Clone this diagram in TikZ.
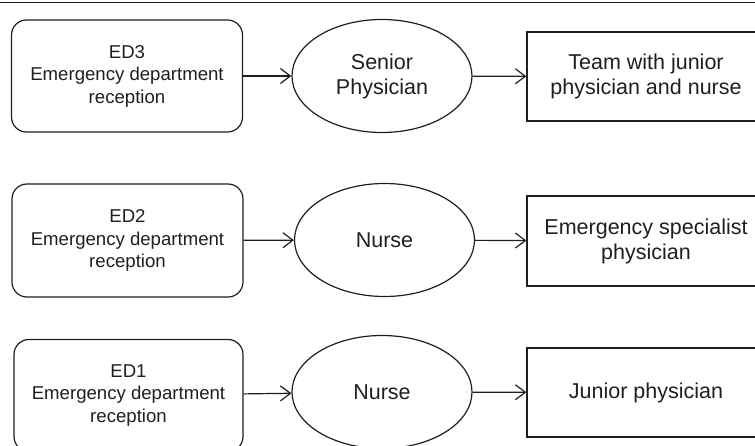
\documentclass[tikz,border=0pt]{standalone}
\usepackage{fontspec}
\setmainfont{Liberation Sans}
\usetikzlibrary{arrows.meta, shapes.geometric}
\colorlet{Ink}{black!88}

\begin{document}
\begin{tikzpicture}[x=1pt, y=-1pt,
  recnode/.style={rectangle, rounded corners=15pt, draw=Ink, text=Ink, line width=1.2pt, minimum width=231pt, minimum height=112pt, align=center, font=\fontsize{18.6}{22.5}\selectfont},
  staffnode/.style={ellipse, draw=Ink, text=Ink, line width=1.2pt, minimum width=180pt, minimum height=113pt, inner sep=0pt, align=center, font=\fontsize{21.5}{25}\selectfont},
  teamnode/.style={rectangle, draw=Ink, text=Ink, line width=1.2pt, minimum width=238pt, minimum height=89pt, align=center, font=\fontsize{21.5}{25}\selectfont},
  flow/.style={-{Straight Barb[length=10pt,width=15pt]}, draw=Ink, line width=1.2pt}
]
\useasboundingbox (0,0) rectangle (755,446);

% rule at the top
\draw[Ink, line width=1.5pt] (0,2.5) -- (755,2.5);

% ED3
\node [recnode] (rec3) at (127,76) {ED3\\Emergency department\\reception};
\node [staffnode] (staff3) at (382,76) {Senior\\Physician};
\node [teamnode] (team3) at (646,76.5) {Team with junior\\physician and nurse};

% ED2
\node [recnode, minimum height=113pt] (rec2) at (127.5,240.5) {ED2\\Emergency department\\reception};
\node [staffnode] (staff2) at (384.5,240) {Nurse};
\node [teamnode, minimum height=90pt] (team2) at (646,241) {Emergency specialist\\physician};

% ED1
\node [recnode, minimum width=229pt] (rec1) at (128.5,395.5) {ED1\\Emergency department\\reception};
\node [staffnode] (staff1) at (382,392) {Nurse};
\node [teamnode] (team1) at (646,392.5) {Junior physician};

\foreach \r in {1,2,3}
{
  \draw[flow] (rec\r) -- (staff\r);
  \draw[flow] (staff\r) -- (team\r);
}
\end{tikzpicture}
\end{document}
